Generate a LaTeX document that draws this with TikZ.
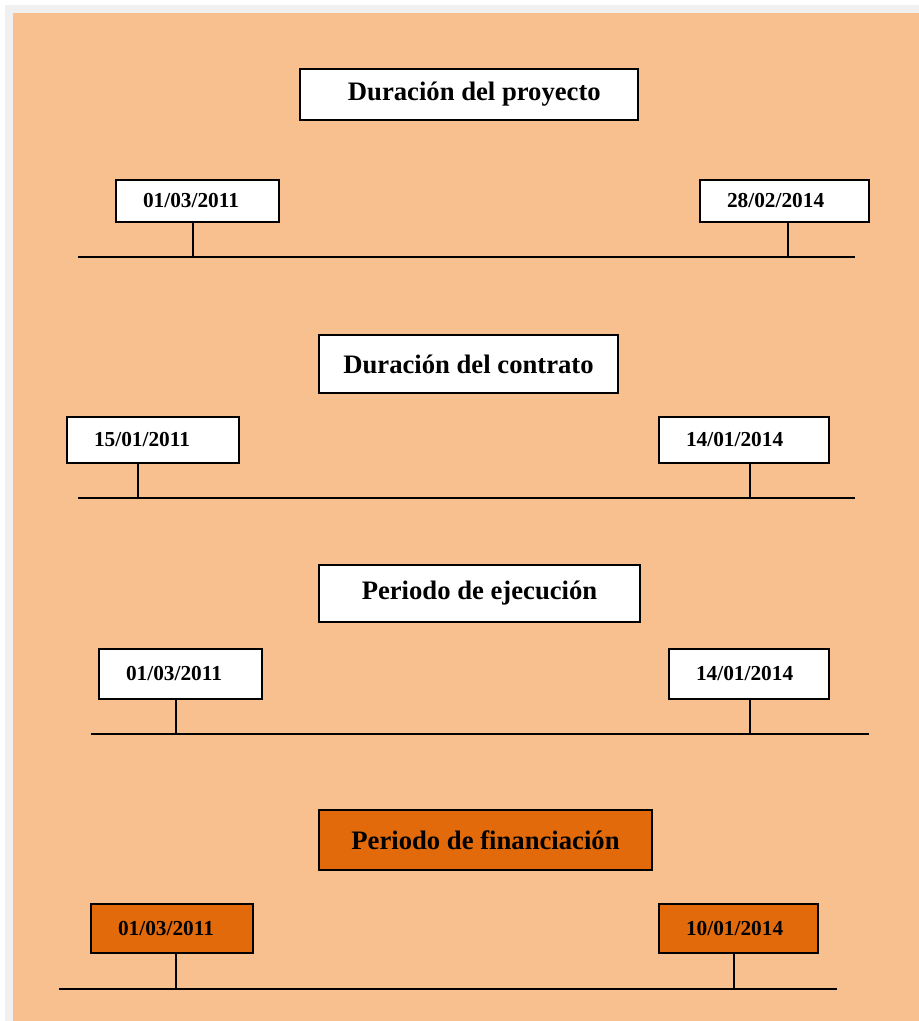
\documentclass[tikz,border=0pt]{standalone}
\usepackage{fontspec}
\setmainfont{Liberation Serif}
\usepackage{xcolor}
\usepackage{tikz}
\usetikzlibrary{positioning, calc}
\definecolor{peach}{HTML}{F8BF8F}
\definecolor{burnt}{HTML}{E26A0A}
\definecolor{frame}{HTML}{F0F0F0}
\tikzset{
        titlebox/.style={rectangle, draw, fill=white, line width=1pt, inner sep=0pt, text centered, font=\fontsize{20}{24}\selectfont\bfseries},
        datebox/.style={rectangle, draw, fill=white, line width=1pt, inner xsep=20.25pt, inner ysep=0pt, align=left, text width=#1, font=\fontsize{16}{19}\selectfont\bfseries},
        timeline/.style={line width=1.4pt},
        tickline/.style={line width=1.4pt},
    }

\begin{document}
\begin{tikzpicture}[x=0.75pt, y=-0.75pt]
        \useasboundingbox (0,0) rectangle (919,1021);
        % background
        \fill[white] (0,0) rectangle (919,1021);
        \fill[frame] (5,5) rectangle (919,1021);
        \fill[peach] (13,13) rectangle (919,1021);

        % Duracion del proyecto
        \node[titlebox, minimum width=253.5pt, minimum height=38.25pt] (proy) at (469, 94.5) {\hspace{8pt}Duración del proyecto};
        \node[datebox=81.75pt, minimum height=31.5pt] (d1a) at (197.5, 201) {01/03/2011};
        \node[datebox=86.25pt, minimum height=31.5pt] (d1b) at (784.5, 201) {28/02/2014};
        \coordinate (l1a) at (78, 257);
        \coordinate (l1b) at (855, 257);
        \coordinate (t1a) at (193, 257);
        \coordinate (t1b) at (788, 257);
        \draw[timeline] (l1a) -- (l1b);
        \draw[tickline] (t1a) -- (t1a |- d1a.south);
        \draw[tickline] (t1b) -- (t1b |- d1b.south);

        % Duracion del contrato
        \node[titlebox, minimum width=224.25pt, minimum height=43.5pt] (contr) at (468.5, 364) {Duración del contrato};
        \node[datebox=88.5pt, minimum height=34.5pt] (d2a) at (153, 440) {15/01/2011};
        \node[datebox=87pt, minimum height=34.5pt] (d2b) at (744, 440) {14/01/2014};
        \coordinate (l2a) at (78, 498);
        \coordinate (l2b) at (855, 498);
        \coordinate (t2a) at (138, 498);
        \coordinate (t2b) at (750, 498);
        \draw[timeline] (l2a) -- (l2b);
        \draw[tickline] (t2a) -- (t2a |- d2a.south);
        \draw[tickline] (t2b) -- (t2b |- d2b.south);

        % Periodo de ejecucion
        \node[titlebox, minimum width=240.75pt, minimum height=42.75pt] (ejec) at (479.5, 593.5) {Periodo de ejecución\hspace{10pt}};
        \node[datebox=81.75pt, minimum height=37.5pt] (d3a) at (180.5, 674) {01/03/2011};
        \node[datebox=79.5pt, minimum height=37.5pt] (d3b) at (749, 674) {14/01/2014};
        \coordinate (l3a) at (91, 734);
        \coordinate (l3b) at (869, 734);
        \coordinate (t3a) at (176, 734);
        \coordinate (t3b) at (750, 734);
        \draw[timeline] (l3a) -- (l3b);
        \draw[tickline] (t3a) -- (t3a |- d3a.south);
        \draw[tickline] (t3b) -- (t3b |- d3b.south);

        % Periodo de financiacion
        \node[titlebox, fill=burnt, minimum width=249.75pt, minimum height=45pt] (fin) at (485.5, 840) {Periodo de financiación};
        \node[datebox=81pt, fill=burnt, minimum height=36.75pt] (d4a) at (172, 928.5) {01/03/2011};
        \node[datebox=78.75pt, fill=burnt, minimum height=36.75pt] (d4b) at (738.5, 928.5) {10/01/2014};
        \coordinate (l4a) at (59, 989);
        \coordinate (l4b) at (837, 989);
        \coordinate (t4a) at (176, 989);
        \coordinate (t4b) at (734, 989);
        \draw[timeline] (l4a) -- (l4b);
        \draw[tickline] (t4a) -- (t4a |- d4a.south);
        \draw[tickline] (t4b) -- (t4b |- d4b.south);
    \end{tikzpicture}
\end{document}
